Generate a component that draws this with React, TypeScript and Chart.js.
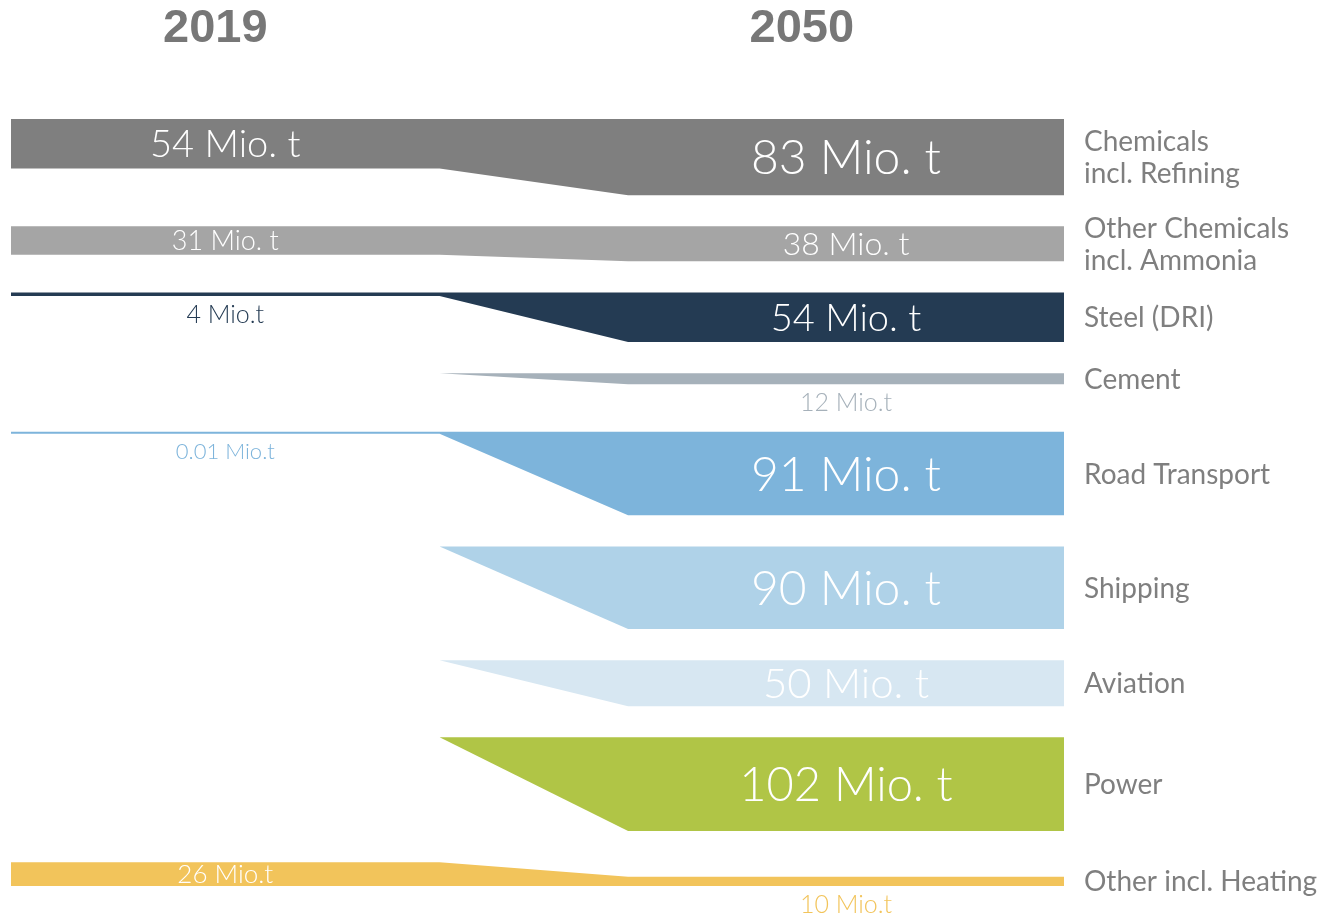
import React, { useEffect, useRef } from "react";
import { Chart, registerables } from "chart.js";

Chart.register(...registerables);

// ---------- data ----------
const CATEGORIES: string[][] = [
  ["Chemicals", "incl. Refining"],
  ["Other Chemicals", "incl. Ammonia"],
  ["Steel (DRI)"],
  ["Cement"],
  ["Road Transport"],
  ["Shipping"],
  ["Aviation"],
  ["Power"],
  ["Other incl. Heating"],
];
const YEARS = ["2019", "2050"];
const VALUES_2019 = [54, 31, 4, 0, 0.01, 0, 0, 0, 26];
const VALUES_2050 = [83, 38, 54, 12, 91, 90, 50, 102, 10];

// ---------- styles / layout ----------
const COLORS = [
  "#7f7f7f",
  "#a5a5a5",
  "#243b53",
  "#a6b1ba",
  "#7db4db",
  "#afd2e8",
  "#d7e7f2",
  "#b0c546",
  "#f2c45b",
];
const ALIGN = ["top", "top", "top", "top", "top", "top", "top", "top", "bottom"];
const LABEL_SIZE_2019 = [38, 27, 25, 0, 22, 0, 0, 0, 26];
const LABEL_SIZE_2050 = [48, 32, 38, 25, 48, 48, 42, 47, 25];
const X_COLS = [0, 40.7, 58.6, 100]; // start, transition start, transition end, end
const YEAR_X = [19.4, 75.1];
const GAP = 34;
const EXTRA_GAP = 18;
const MIN_THICK = 2;
const INSIDE_MIN = 20;
const VALUE_FONT = "Lato";
const CAT_FONT = "Lato";

const thick = (v: number) => (v <= 0 ? 0 : Math.max(v, MIN_THICK));
const fmt = (v: number) => (v >= 30 ? `${v} Mio. t` : `${v} Mio.t`);

type Band = { top19: number; bot19: number; top50: number; bot50: number; has19: boolean };

function layout(): { bands: Band[]; total: number } {
  const bands: Band[] = [];
  let cursor = 0;
  const n = CATEGORIES.length;
  for (let i = 0; i < n; i++) {
    const t19 = thick(VALUES_2019[i]);
    const t50 = thick(VALUES_2050[i]);
    const h = Math.max(t19, t50);
    const top = cursor;
    const bot = cursor + h;
    if (ALIGN[i] === "bottom") {
      bands.push({ top19: bot - t19, bot19: bot, top50: bot - t50, bot50: bot, has19: t19 > 0 });
    } else {
      bands.push({ top19: top, bot19: top + t19, top50: top, bot50: top + t50, has19: t19 > 0 });
    }
    cursor = bot;
    if (i < n - 1) cursor += GAP + (VALUES_2050[i] < INSIDE_MIN ? EXTRA_GAP : 0);
  }
  return { bands, total: cursor };
}

function edgePoints(y19: number, y50: number, has19: boolean) {
  const [x0, x1, x2, x3] = X_COLS;
  const pts = [
    { x: x1, y: y19 },
    { x: x2, y: y50 },
    { x: x3, y: y50 },
  ];
  return has19 ? [{ x: x0, y: y19 }, ...pts] : pts;
}

export default function App() {
  const ref = useRef<HTMLCanvasElement | null>(null);

  useEffect(() => {
    if (!ref.current) return;
    const { bands, total } = layout();

    const datasets: any[] = [];
    bands.forEach((b, i) => {
      datasets.push({
        label: CATEGORIES[i].join(" ") + " top",
        data: edgePoints(b.top19, b.top50, b.has19),
        borderColor: COLORS[i],
        borderWidth: 0,
        pointRadius: 0,
        fill: false,
        tension: 0,
      });
      datasets.push({
        label: CATEGORIES[i].join(" ") + " bottom",
        data: edgePoints(b.bot19, b.bot50, b.has19),
        borderColor: COLORS[i],
        backgroundColor: COLORS[i],
        borderWidth: 0,
        pointRadius: 0,
        fill: "-1",
        tension: 0,
      });
    });

    const labelPlugin = {
      id: "bandLabels",
      afterDraw(chart: any) {
        const ctx = chart.ctx as CanvasRenderingContext2D;
        const xs = chart.scales.x;
        const ys = chart.scales.y;
        const [x0, x1, x2, x3] = X_COLS;
        ctx.save();
        ctx.textAlign = "center";
        ctx.textBaseline = "alphabetic";

        const drawValue = (v: number, size: number, cx: number, yTop: number, yBot: number, color: string) => {
          const cap = size * 0.72;
          const pTop = ys.getPixelForValue(yTop);
          const pBot = ys.getPixelForValue(yBot);
          ctx.font = `300 ${size}px ${VALUE_FONT}`;
          if (v >= INSIDE_MIN) {
            ctx.fillStyle = "#ffffff";
            ctx.fillText(fmt(v), cx, (pTop + pBot) / 2 + cap / 2);
          } else {
            ctx.fillStyle = color;
            ctx.fillText(fmt(v), cx, pBot + 9 + cap);
          }
        };

        bands.forEach((b, i) => {
          if (VALUES_2019[i] > 0) {
            drawValue(
              VALUES_2019[i],
              LABEL_SIZE_2019[i],
              xs.getPixelForValue((x0 + x1) / 2),
              b.top19,
              b.bot19,
              COLORS[i]
            );
          }
          drawValue(
            VALUES_2050[i],
            LABEL_SIZE_2050[i],
            xs.getPixelForValue((x2 + x3) / 2),
            b.top50,
            b.bot50,
            COLORS[i]
          );

          // category labels
          const lines = CATEGORIES[i];
          const size = 28;
          const lh = 32;
          const cy = (ys.getPixelForValue(b.top50) + ys.getPixelForValue(b.bot50)) / 2;
          ctx.font = `400 ${size}px ${CAT_FONT}`;
          ctx.fillStyle = "#7f7f7f";
          ctx.textAlign = "left";
          const lx = xs.getPixelForValue(x3) + 20;
          lines.forEach((ln, k) => {
            const off = (k - (lines.length - 1) / 2) * lh;
            ctx.fillText(ln, lx, cy + off + (size * 0.72) / 2);
          });
          ctx.textAlign = "center";
        });

        // year headers
        ctx.font = `700 47px "Liberation Sans", Arial, sans-serif`;
        ctx.fillStyle = "#777777";
        YEARS.forEach((y, k) => {
          ctx.fillText(y, xs.getPixelForValue(YEAR_X[k]), 42);
        });
        ctx.restore();
      },
    };

    const chart = new Chart(ref.current, {
      type: "line",
      data: { datasets },
      options: {
        animation: false,
        responsive: false,
        devicePixelRatio: 1,
        parsing: true,
        layout: { padding: { left: 11, right: 258, top: 119, bottom: 31 } },
        scales: {
          x: { type: "linear", min: 0, max: 100, display: false },
          y: { type: "linear", min: 0, max: total, reverse: true, display: false },
        },
        plugins: {
          legend: { display: false },
          tooltip: { enabled: false },
        },
        elements: { line: { borderWidth: 0 } },
      },
      plugins: [labelPlugin],
    });
    return () => chart.destroy();
  }, []);

  return (
    <div style={{ position: "absolute", left: 0, top: 0, width: 1322, height: 917, background: "#ffffff" }}>
      <canvas ref={ref} width={1322} height={917} />
    </div>
  );
}
